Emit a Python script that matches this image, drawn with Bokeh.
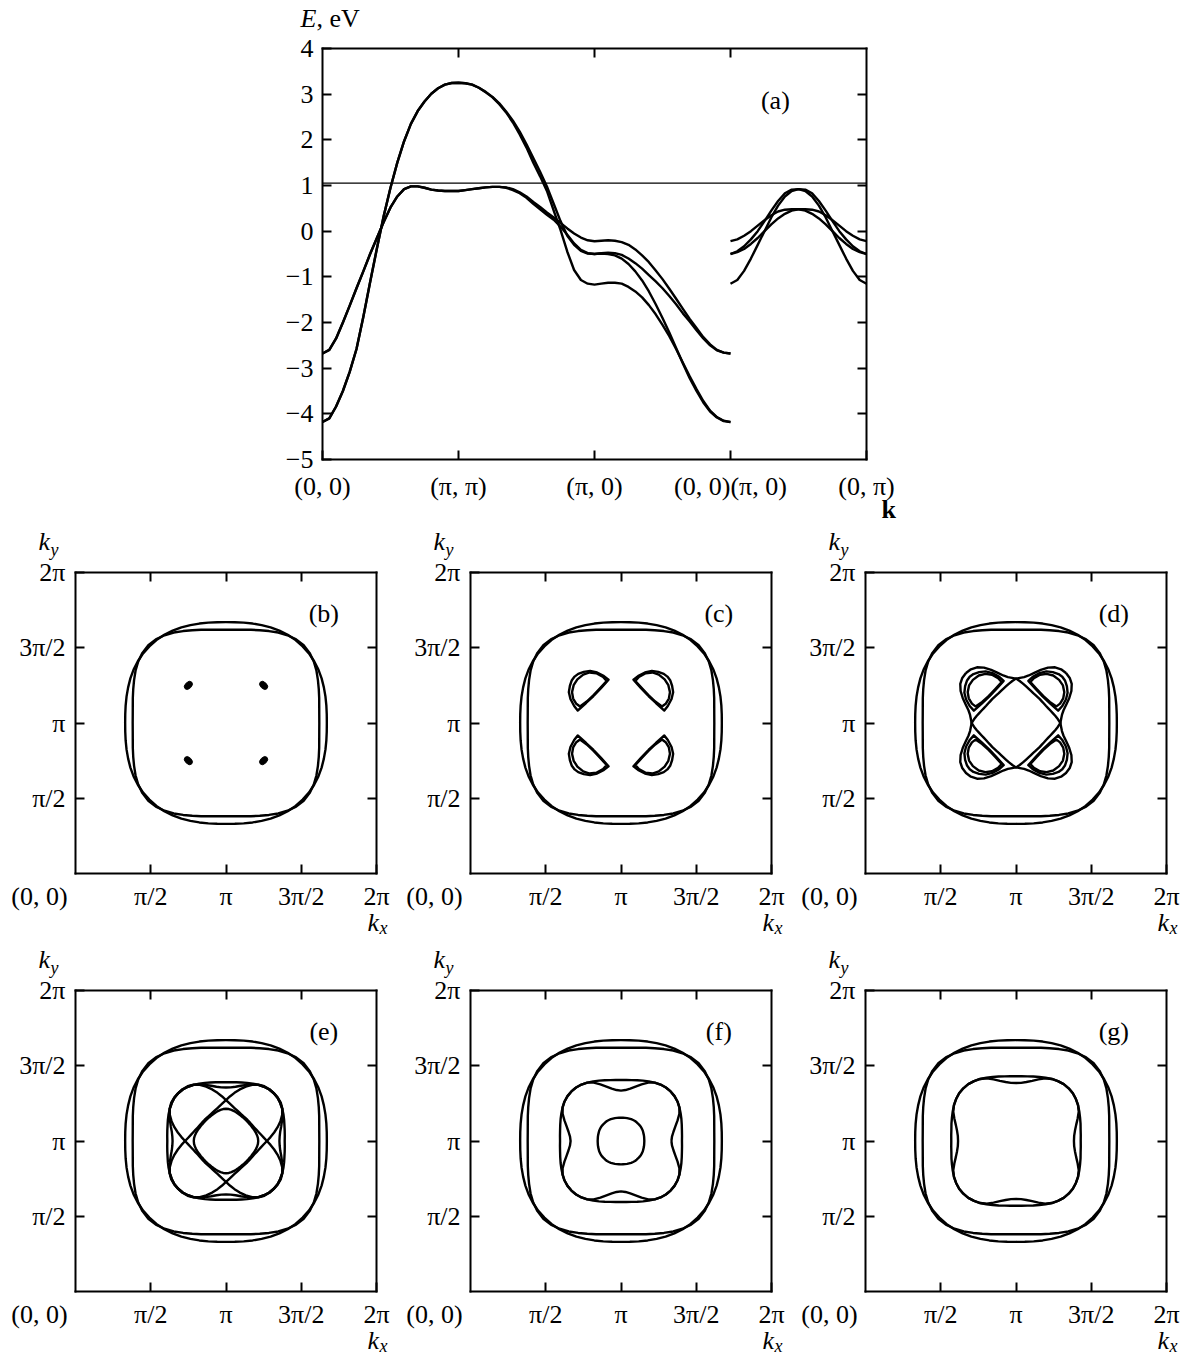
import numpy as np
from bokeh.plotting import figure
from bokeh.layouts import column, row
from bokeh.models import FixedTicker, Label, LinearAxis, Range1d, Spacer
from bokeh.embed import file_html
from bokeh.resources import INLINE

FONT = "Liberation Serif"
FS = "26px"
SUB = "18px"
INK = "black"

# ---------------- (a) bands along (0,0)-(pi,pi)-(pi,0)-(0,0) | (pi,0)-(0,pi) ----------------
PATH_TICKS = [0, 1, 2, 3, 4]
PATH_LABELS = ["(0, 0)", "(π, π)", "(π, 0)", "(0, 0)(π, 0)", "(0, π)"]
E_TICKS = [4, 3, 2, 1, 0, -1, -2, -3, -4, -5]
E_LABELS = ["4", "3", "2", "1", "0", "−1", "−2", "−3", "−4", "−5"]
FERMI_LEVEL = 1.05

# position inside one path segment
K_STEP = [0.0, 0.05, 0.1, 0.15, 0.2, 0.25, 0.3, 0.35, 0.4, 0.45, 0.5,
          0.55, 0.6, 0.65, 0.7, 0.75, 0.8, 0.85, 0.9, 0.95, 1.0]

# (0,0) -> (pi,pi)
GM_STEEP = [-4.18, -4.10, -3.84, -3.50, -3.08, -2.58, -1.88, -1.12, -0.38, 0.33, 0.95,
            1.50, 1.97, 2.35, 2.63, 2.84, 3.01, 3.13, 3.21, 3.245, 3.25]
GM_FLAT = [-2.68, -2.60, -2.35, -2.00, -1.63, -1.25, -0.88, -0.50, -0.15, 0.20, 0.52,
           0.76, 0.92, 0.98, 0.98, 0.95, 0.91, 0.89, 0.88, 0.88, 0.88]
# (pi,pi) -> (pi,0)
MX_1 = [3.25, 3.24, 3.21, 3.14, 3.04, 2.93, 2.78, 2.60, 2.38, 2.12, 1.83,
        1.50, 1.20, 0.88, 0.45, 0.03, -0.45, -0.85, -1.07, -1.15, -1.17]
MX_2 = [3.25, 3.24, 3.21, 3.14, 3.05, 2.94, 2.80, 2.62, 2.42, 2.18, 1.90,
        1.60, 1.30, 0.98, 0.60, 0.22, -0.10, -0.30, -0.43, -0.49, -0.50]
MX_3 = [0.88, 0.90, 0.92, 0.94, 0.96, 0.97, 0.97, 0.95, 0.90, 0.83, 0.73,
        0.60, 0.48, 0.36, 0.25, 0.10, -0.08, -0.27, -0.41, -0.48, -0.50]
MX_4 = [0.88, 0.90, 0.92, 0.94, 0.96, 0.97, 0.97, 0.96, 0.92, 0.85, 0.76,
        0.64, 0.53, 0.41, 0.30, 0.18, 0.06, -0.05, -0.14, -0.20, -0.22]
# (pi,0) -> (0,0)
XG_1 = [-1.17, -1.15, -1.13, -1.13, -1.15, -1.22, -1.32, -1.45, -1.62, -1.82, -2.05,
        -2.30, -2.58, -2.88, -3.18, -3.46, -3.72, -3.93, -4.07, -4.15, -4.18]
XG_2 = [-0.50, -0.49, -0.50, -0.53, -0.60, -0.72, -0.88, -1.08, -1.32, -1.60, -1.90,
        -2.22, -2.56, -2.90, -3.22, -3.50, -3.75, -3.95, -4.08, -4.16, -4.18]
XG_3 = [-0.50, -0.48, -0.47, -0.48, -0.52, -0.60, -0.70, -0.82, -0.96, -1.10, -1.25,
        -1.42, -1.60, -1.80, -1.98, -2.17, -2.35, -2.50, -2.61, -2.66, -2.68]
XG_4 = [-0.22, -0.21, -0.20, -0.21, -0.24, -0.30, -0.40, -0.53, -0.68, -0.86, -1.05,
        -1.26, -1.48, -1.70, -1.92, -2.12, -2.32, -2.48, -2.60, -2.66, -2.68]
# (pi,0) -> (0,pi)
XY_1 = [-1.15, -1.07, -0.87, -0.60, -0.30, 0.00, 0.30, 0.56, 0.76, 0.88, 0.92,
        0.91, 0.83, 0.66, 0.45, 0.22, 0.00, -0.18, -0.33, -0.44, -0.50]
XY_2 = [-0.50, -0.44, -0.33, -0.18, 0.00, 0.22, 0.45, 0.66, 0.83, 0.91, 0.92,
        0.88, 0.76, 0.56, 0.30, 0.00, -0.30, -0.60, -0.87, -1.07, -1.15]
XY_3 = [-0.22, -0.18, -0.10, 0.00, 0.12, 0.24, 0.35, 0.43, 0.47, 0.48, 0.48,
        0.45, 0.38, 0.28, 0.15, 0.00, -0.15, -0.28, -0.39, -0.46, -0.50]
XY_4 = [-0.50, -0.46, -0.39, -0.28, -0.15, 0.00, 0.15, 0.28, 0.38, 0.45, 0.48,
        0.48, 0.47, 0.43, 0.35, 0.24, 0.12, 0.00, -0.10, -0.18, -0.22]

# ---------------- (b)-(g) Fermi contours, k in units of pi ----------------
K_TICKS = [0.5, 1.0, 1.5, 2.0]
K_LABELS = ["π/2", "π", "3π/2", "2π"]
K_INNER = [0.5, 1.0, 1.5]

# radius (units of pi) around (pi, pi) for 0..45 deg in 5 deg steps (square symmetry)
OUTER_1 = [0.670, 0.672, 0.677, 0.684, 0.692, 0.701, 0.709, 0.715, 0.719, 0.720]
OUTER_2 = [0.620, 0.622, 0.629, 0.641, 0.656, 0.674, 0.694, 0.712, 0.725, 0.730]
SQ_E_1 = [0.390, 0.392, 0.396, 0.402, 0.411, 0.421, 0.431, 0.440, 0.447, 0.449]
SQ_E_2 = [0.355, 0.358, 0.366, 0.380, 0.396, 0.414, 0.431, 0.440, 0.447, 0.449]
SQ_F_1 = [0.405, 0.407, 0.411, 0.418, 0.427, 0.437, 0.448, 0.458, 0.464, 0.466]
SQ_F_2 = [0.335, 0.340, 0.354, 0.374, 0.400, 0.428, 0.448, 0.458, 0.464, 0.466]
SQ_G_1 = [0.430, 0.432, 0.436, 0.444, 0.453, 0.464, 0.476, 0.486, 0.493, 0.495]
SQ_G_2 = [0.385, 0.388, 0.398, 0.414, 0.436, 0.460, 0.476, 0.486, 0.493, 0.495]
CENTER_E = [0.214, 0.213, 0.210, 0.206, 0.202, 0.198, 0.195, 0.193, 0.192, 0.192]
CIRCLE_F = [0.155, 0.155, 0.156, 0.157, 0.158, 0.160, 0.161, 0.162, 0.162, 0.162]

# diagonal leaves: radius for 0..90 deg from the long axis, 5 deg steps
LEAF_D = [0.470, 0.466, 0.452, 0.425, 0.390, 0.355, 0.327, 0.310, 0.301, 0.295,
          0.280, 0.266, 0.253, 0.243, 0.235, 0.229, 0.226, 0.224, 0.224]
LEAF_E = [0.450, 0.449, 0.444, 0.432, 0.412, 0.385, 0.355, 0.325, 0.297, 0.272,
          0.252, 0.237, 0.225, 0.216, 0.209, 0.204, 0.201, 0.200, 0.200]

# pockets near the diagonals: u along the diagonal (outwards), v across it
POCKET_C_OUTER_U = [0.256, 0.258, 0.262, 0.30, 0.35, 0.39, 0.415, 0.432, 0.436,
                    0.432, 0.415, 0.39, 0.35, 0.30, 0.262, 0.258, 0.256]
POCKET_C_OUTER_V = [0.0, 0.07, 0.145, 0.14, 0.125, 0.1, 0.065, 0.03, 0.0,
                    -0.03, -0.065, -0.1, -0.125, -0.14, -0.145, -0.07, 0.0]
POCKET_C_INNER_U = [0.26, 0.262, 0.265, 0.30, 0.35, 0.385, 0.405, 0.41,
                    0.40, 0.375, 0.34, 0.30, 0.27, 0.262, 0.26]
POCKET_C_INNER_V = [0.0, 0.06, 0.13, 0.132, 0.118, 0.09, 0.05, 0.0,
                    -0.045, -0.085, -0.11, -0.12, -0.115, -0.06, 0.0]
POCKET_D_OUTER_U = [0.25, 0.252, 0.256, 0.295, 0.345, 0.385, 0.412, 0.43, 0.435,
                    0.43, 0.412, 0.385, 0.345, 0.295, 0.256, 0.252, 0.25]
POCKET_D_OUTER_V = [0.0, 0.07, 0.14, 0.138, 0.124, 0.1, 0.066, 0.03, 0.0,
                    -0.03, -0.066, -0.1, -0.124, -0.138, -0.14, -0.07, 0.0]
POCKET_D_INNER_U = [0.255, 0.257, 0.26, 0.295, 0.34, 0.375, 0.398, 0.405,
                    0.397, 0.372, 0.338, 0.298, 0.268, 0.258, 0.255]
POCKET_D_INNER_V = [0.0, 0.06, 0.125, 0.127, 0.114, 0.087, 0.048, 0.0,
                    -0.044, -0.082, -0.106, -0.116, -0.112, -0.06, 0.0]

# small pockets of (b)
DOT_KX = [0.75, 1.25, 0.75, 1.25]
DOT_KY = [1.25, 1.25, 0.75, 0.75]
DOT_TILT = [45, -45, -45, 45]


def square_loop(radii):
    xs, ys = [], []
    for a in range(0, 361, 5):
        b = a % 90
        if b > 45:
            b = 90 - b
        r = radii[b // 5]
        t = np.radians(a)
        xs.append(1 + r * np.cos(t))
        ys.append(1 + r * np.sin(t))
    return xs, ys


def leaf_loop(radii, tilt):
    xs, ys = [], []
    for a in range(0, 361, 5):
        b = a % 180
        if b > 90:
            b = 180 - b
        r = radii[b // 5]
        t = np.radians(a + tilt)
        xs.append(1 + r * np.cos(t))
        ys.append(1 + r * np.sin(t))
    return xs, ys


def pocket_loops(us, vs):
    loops = []
    s2 = np.sqrt(2.0)
    for sx, sy in [(1, 1), (-1, 1), (1, -1), (-1, -1)]:
        xs = [1 + sx * (-u + v) / s2 for u, v in zip(us, vs)]
        ys = [1 + sy * (u + v) / s2 for u, v in zip(us, vs)]
        loops.append((xs, ys))
    return loops


def text_label(x, y, dx, dy, text, size=FS, style="normal", align="left", baseline="middle"):
    return Label(x=x, y=y, x_offset=dx, y_offset=dy, text=text, text_font=FONT,
                 text_font_size=size, text_font_style=style, text_color=INK,
                 text_align=align, text_baseline=baseline)


def boxed_figure(width, height, box, xlim, ylim):
    """Figure whose plotting area is the whole canvas; the data box sits at `box`
    (left, top, w, h in pixels) and is outlined by four fixed-location axes."""
    left, top, bw, bh = box
    sx = (xlim[1] - xlim[0]) / bw
    sy = (ylim[1] - ylim[0]) / bh
    xr = Range1d(xlim[0] - left * sx, xlim[1] + (width - left - bw) * sx)
    yr = Range1d(ylim[0] - (height - top - bh) * sy, ylim[1] + top * sy)
    p = figure(width=width, height=height, x_range=xr, y_range=yr,
               x_axis_type=None, y_axis_type=None, min_border=0,
               output_backend="svg", toolbar_location=None)
    p.outline_line_color = None
    p.background_fill_color = "white"
    p.border_fill_color = "white"
    return p


def add_axis(p, side, loc, bounds, ticks, labels, standoff):
    ax = LinearAxis(fixed_location=loc, bounds=bounds, ticker=FixedTicker(ticks=ticks),
                    axis_line_color=INK, axis_line_width=2, axis_line_cap="square",
                    major_tick_in=9, major_tick_out=0, major_tick_line_width=2,
                    major_tick_line_color=INK, minor_tick_line_color=None,
                    major_label_standoff=standoff, major_label_text_font=FONT,
                    major_label_text_font_size=FS, major_label_text_color=INK)
    if labels is None:
        ax.major_label_text_color = None
    else:
        ax.major_label_overrides = {float(t): s for t, s in zip(ticks, labels)}
    p.add_layout(ax, side)


# ---------------- panel (a) ----------------
A_W, A_H = 656, 524
pa = boxed_figure(A_W, A_H, (72, 48, 544, 411), (0, 4), (-5, 4))
add_axis(pa, "below", -5, (0, 4), PATH_TICKS, PATH_LABELS, 12)
add_axis(pa, "above", 4, (0, 4), [1, 2, 3], None, 0)
add_axis(pa, "left", 0, (-5, 4), E_TICKS, E_LABELS, 9)
add_axis(pa, "right", 4, (-5, 4), E_TICKS[1:-1], None, 0)

pa.segment(x0=[PATH_TICKS[0]], y0=[FERMI_LEVEL], x1=[PATH_TICKS[-1]], y1=[FERMI_LEVEL],
           line_color=INK, line_width=1.3)

seg0 = [k for k in K_STEP]
seg1 = [1 + k for k in K_STEP]
seg2 = [2 + k for k in K_STEP]
seg3 = [3 + k for k in K_STEP]
path_x = seg0 + seg1[1:] + seg2[1:]
for first, mid, last in ((GM_STEEP, MX_1, XG_1), (GM_STEEP, MX_2, XG_2),
                         (GM_FLAT, MX_3, XG_3), (GM_FLAT, MX_4, XG_4)):
    pa.line(path_x, first + mid[1:] + last[1:], line_color=INK, line_width=2.4, line_join="round")
for band in (XY_1, XY_2, XY_3, XY_4):
    pa.line(seg3, band, line_color=INK, line_width=2.4, line_join="round")

pa.add_layout(text_label(0, 4, -22, 30, "E", style="italic"))
pa.add_layout(text_label(0, 4, -6, 30, ", eV"))
pa.add_layout(text_label(4, -5, 15, -50, "k", style="bold"))
pa.add_layout(text_label(3.33, 2.86, 0, 0, "(a)", align="center"))


# ---------------- panels (b)-(g) ----------------
def k_panel(letter, loops, top_border=54, right_border=24, dots=False):
    p = boxed_figure(70 + 301 + right_border, top_border + 301 + 63,
                     (70, top_border, 301, 301), (0, 2), (0, 2))
    add_axis(p, "below", 0, (0, 2), K_TICKS, K_LABELS, 8)
    add_axis(p, "left", 0, (0, 2), K_TICKS, K_LABELS, 10)
    add_axis(p, "above", 2, (0, 2), K_INNER, None, 0)
    add_axis(p, "right", 2, (0, 2), K_INNER, None, 0)
    for xs, ys in loops:
        p.line(xs, ys, line_color=INK, line_width=2.4, line_join="round")
    if dots:
        p.ellipse(x=DOT_KX, y=DOT_KY, width=0.062, height=0.042,
                  angle=[np.radians(a) for a in DOT_TILT], fill_color=INK, line_color=INK)
    p.add_layout(text_label(1.65, 1.73, 0, 0, "(" + letter + ")", align="center"))
    p.add_layout(text_label(0, 2, -37, 31, "k", style="italic"))
    p.add_layout(text_label(0, 2, -25, 23, "y", size=SUB, style="italic"))
    p.add_layout(text_label(2, 0, -9, -49, "k", style="italic"))
    p.add_layout(text_label(2, 0, 3, -54, "x", size=SUB, style="italic"))
    p.add_layout(text_label(0, 0, -36, -8, "(0, 0)", align="center", baseline="top"))
    return p


outer = [square_loop(OUTER_1), square_loop(OUTER_2)]
T1 = 48  # first row sits right under panel (a)

pb = k_panel("b", outer, top_border=T1, dots=True)
pc = k_panel("c", outer + pocket_loops(POCKET_C_OUTER_U, POCKET_C_OUTER_V)
             + pocket_loops(POCKET_C_INNER_U, POCKET_C_INNER_V), top_border=T1)
pd = k_panel("d", outer + [leaf_loop(LEAF_D, 45), leaf_loop(LEAF_D, 135)]
             + pocket_loops(POCKET_D_OUTER_U, POCKET_D_OUTER_V)
             + pocket_loops(POCKET_D_INNER_U, POCKET_D_INNER_V), top_border=T1, right_border=18)
pe = k_panel("e", outer + [leaf_loop(LEAF_E, 45), leaf_loop(LEAF_E, 135),
                           square_loop(SQ_E_1), square_loop(SQ_E_2), square_loop(CENTER_E)])
pf = k_panel("f", outer + [square_loop(SQ_F_1), square_loop(SQ_F_2), square_loop(CIRCLE_F)])
pg = k_panel("g", outer + [square_loop(SQ_G_1), square_loop(SQ_G_2)], right_border=18)

layout = column(
    row(Spacer(width=250, height=A_H), pa),
    row(Spacer(width=5, height=T1 + 301 + 63), pb, pc, pd),
    row(Spacer(width=5, height=54 + 301 + 63), pe, pf, pg),
)

open("out.html", "w").write(file_html(layout, INLINE))
